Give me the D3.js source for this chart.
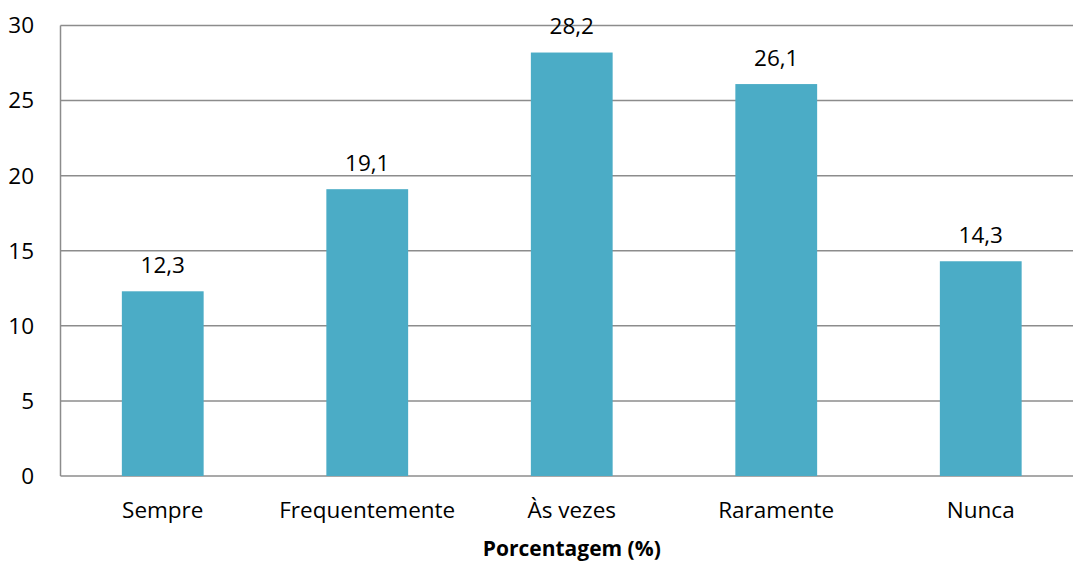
<!DOCTYPE html>
<html>
<head>
<meta charset="utf-8">
<script src="https://cdn.jsdelivr.net/npm/d3@7"></script>
<style>
  html, body { margin: 0; padding: 0; background: #fff; }
  svg { display: block; }
  text { font-family: "Open Sans", sans-serif; fill: #000; }
</style>
</head>
<body>
<svg id="chart" width="1073" height="563"></svg>
<script>
// Frequency categories and their percentages
const categories = ["Sempre", "Frequentemente", "Às vezes", "Raramente", "Nunca"];
const values = [12.3, 19.1, 28.2, 26.1, 14.3];
const yTicks = [0, 5, 10, 15, 20, 25, 30];
const axisTitle = "Porcentagem (%)";

const W = 1073, H = 563;
const margin = { left: 60.5, top: 25.5, bottom: 87 };
const plotBottom = H - margin.bottom;
const fontSize = 22.5;

const svg = d3.select("#chart");

const x = d3.scaleBand()
  .domain(categories)
  .range([margin.left, 1083])
  .paddingInner(0.6)
  .paddingOuter(0.3);

const y = d3.scaleLinear()
  .domain([0, 30])
  .range([plotBottom, margin.top]);

const fmt = v => String(v).replace(".", ",");

// Horizontal gridlines
svg.append("g")
  .selectAll("line")
  .data(yTicks)
  .join("line")
  .attr("x1", margin.left)
  .attr("x2", W)
  .attr("y1", d => y(d))
  .attr("y2", d => y(d))
  .attr("stroke", "#8c8c8c")
  .attr("stroke-width", 1.5);

// Y axis line
svg.append("line")
  .attr("x1", margin.left).attr("x2", margin.left)
  .attr("y1", y(30)).attr("y2", y(0))
  .attr("stroke", "#8c8c8c")
  .attr("stroke-width", 1.5);

// Y tick labels
svg.append("g")
  .selectAll("text")
  .data(yTicks)
  .join("text")
  .attr("x", 34)
  .attr("y", d => y(d))
  .attr("dy", "0.35em")
  .attr("text-anchor", "end")
  .attr("font-size", fontSize)
  .text(d => d);

// Bars
svg.append("g")
  .selectAll("rect")
  .data(values)
  .join("rect")
  .attr("x", (d, i) => x(categories[i]))
  .attr("width", x.bandwidth())
  .attr("y", d => y(d))
  .attr("height", d => y(0) - y(d))
  .attr("fill", "#4bacc6");

// Value labels
svg.append("g")
  .selectAll("text")
  .data(values)
  .join("text")
  .attr("x", (d, i) => x(categories[i]) + x.bandwidth() / 2)
  .attr("y", d => y(d) - 26)
  .attr("dy", "0.35em")
  .attr("text-anchor", "middle")
  .attr("font-size", fontSize)
  .text(d => fmt(d));

// Category labels
svg.append("g")
  .selectAll("text")
  .data(categories)
  .join("text")
  .attr("x", d => x(d) + x.bandwidth() / 2)
  .attr("y", 510)
  .attr("dy", "0.35em")
  .attr("text-anchor", "middle")
  .attr("font-size", fontSize)
  .text(d => d);

// Axis title
svg.append("text")
  .attr("x", x(categories[2]) + x.bandwidth() / 2)
  .attr("y", 556)
  .attr("text-anchor", "middle")
  .attr("font-size", 21)
  .attr("font-weight", "bold")
  .text(axisTitle);
</script>
</body>
</html>
